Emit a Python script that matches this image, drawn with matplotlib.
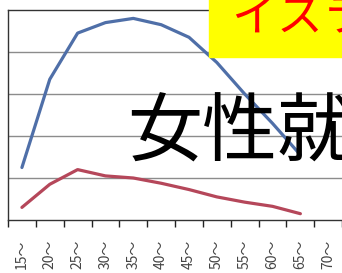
import matplotlib
matplotlib.use('Agg')
import matplotlib.pyplot as plt
from matplotlib.patches import Rectangle

# age groups shown on the x axis
ages = ['15～', '20～', '25～', '30～', '35～', '40～', '45～',
        '50～', '55～', '60～', '65～', '70～']

# values (0-100 scale)
blue_vals = [25, 67, 89, 94, 96, 93, 87, 75, 60, 46, 31]
red_vals = [6, 17, 24, 21, 20, 17.5, 14.5, 11, 8.5, 6.5, 3]

plt.rcParams['font.family'] = ['Noto Sans CJK JP', 'DejaVu Sans']

W, H = 342, 273
fig = plt.figure(figsize=(W / 100, H / 100), dpi=100)

# axes runs past the right edge, like the cropped original
ax = fig.add_axes([8 / W, 53 / H, 362 / W, 210 / H])

x = list(range(len(blue_vals)))
ax.plot(x, blue_vals, color='#4f6fa8', lw=2.3, solid_capstyle='round')
ax.plot(x, red_vals, color='#b5475a', lw=2.3, solid_capstyle='round')

ax.set_xlim(-0.5, 12.5)
ax.set_ylim(0, 100)

# ticks between categories, labels at the centres
ax.set_xticks([i - 0.5 for i in range(13)])
ax.set_xticklabels([])
ax.tick_params(axis='x', which='major', length=5, width=1, color='#222222')
ax.set_xticks(range(len(ages)), minor=True)
ax.set_xticklabels(ages, minor=True, rotation=90, fontsize=10, color='#444444')
ax.tick_params(axis='x', which='minor', length=0, pad=14)

ax.set_yticks([20, 40, 60, 80])
ax.set_yticklabels([])
ax.tick_params(axis='y', length=0)
ax.grid(axis='y', color='#8c8c8c', lw=1)

for s in ax.spines.values():
    s.set_color('#333333')
    s.set_linewidth(1)

# yellow title box (cut off at the edge)
fig.add_artist(Rectangle((209 / W, 1 - 57 / H), 140 / W, 60 / H,
                         transform=fig.transFigure, color='#ffff00', zorder=5))
fig.text(231 / W, 1 - 18 / H, 'イスラ', color='#ff0000', fontsize=33,
         va='center', ha='left', zorder=6)

fig.text(127 / W, 1 - 134 / H, '女性就', color='black', fontsize=54,
         va='center', ha='left', zorder=6)

fig.savefig('out.png', dpi=100)
